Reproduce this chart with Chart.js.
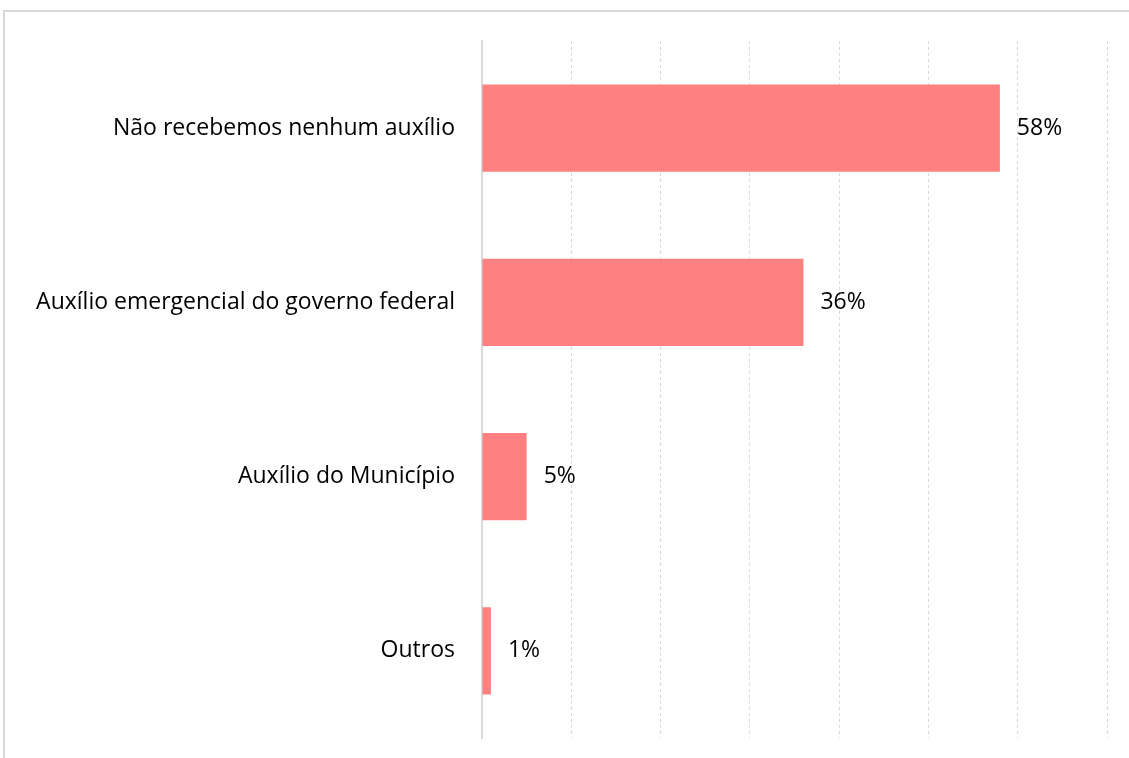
<!DOCTYPE html>
<html>
<head>
<meta charset="utf-8">
<script src="https://cdn.jsdelivr.net/npm/chart.js@4"></script>
<style>
  html, body { margin: 0; padding: 0; background: #fff; }
  #wrap { position: relative; width: 1129px; height: 758px; }
  #frame { position: absolute; left: 3px; top: 10px; right: 0; bottom: 0;
           border-top: 2px solid #d9d9d9; border-left: 2px solid #d9d9d9; }
  canvas { position: absolute; left: 0; top: 0; }
</style>
</head>
<body>
<div id="wrap">
  <div id="frame"></div>
  <canvas id="chart" width="1129" height="758"></canvas>
</div>
<script>
const categories = [
  "Não recebemos nenhum auxílio",
  "Auxílio emergencial do governo federal",
  "Auxílio do Município",
  "Outros"
];
const values = [58, 36, 5, 1];
const valueLabels = ["58%", "36%", "5%", "1%"];

const fontFamily = '"Open Sans", Lato, sans-serif';

// value labels to the right of each bar
const barLabels = {
  id: 'barLabels',
  afterDatasetsDraw(chart) {
    const ctx = chart.ctx;
    const meta = chart.getDatasetMeta(0);
    ctx.save();
    ctx.font = '23px ' + fontFamily;
    ctx.fillStyle = '#000';
    ctx.textAlign = 'left';
    ctx.textBaseline = 'middle';
    meta.data.forEach((bar, i) => {
      ctx.fillText(valueLabels[i], bar.x + 17, bar.y);
    });
    ctx.restore();
  }
};

new Chart(document.getElementById('chart'), {
  type: 'bar',
  data: {
    labels: categories,
    datasets: [{
      data: values,
      backgroundColor: '#ff8080',
      borderWidth: 0,
      barPercentage: 0.5,
      categoryPercentage: 1
    }]
  },
  options: {
    indexAxis: 'y',
    responsive: false,
    animation: false,
    layout: { padding: { top: 41, bottom: 20, right: 22, left: 0 } },
    plugins: { legend: { display: false }, tooltip: { enabled: false } },
    scales: {
      x: {
        min: 0, max: 70,
        afterFit(scale) { scale.height = 0; },
        ticks: { stepSize: 10, display: false },
        border: { display: false, dash: [3, 3] },
        grid: { color: '#d9d9d9', lineWidth: 1, drawTicks: false }
      },
      y: {
        afterFit(scale) { scale.width = 482; },
        ticks: {
          color: '#000',
          padding: 0,
          font: { family: fontFamily, size: 23 }
        },
        border: { display: true, color: '#d9d9d9', width: 2 },
        // invisible tick marks give the gap between labels and axis
        grid: { display: true, drawOnChartArea: false, drawTicks: true,
                tickLength: 27, tickColor: 'rgba(0,0,0,0)' }
      }
    }
  },
  plugins: [barLabels]
});
</script>
</body>
</html>
